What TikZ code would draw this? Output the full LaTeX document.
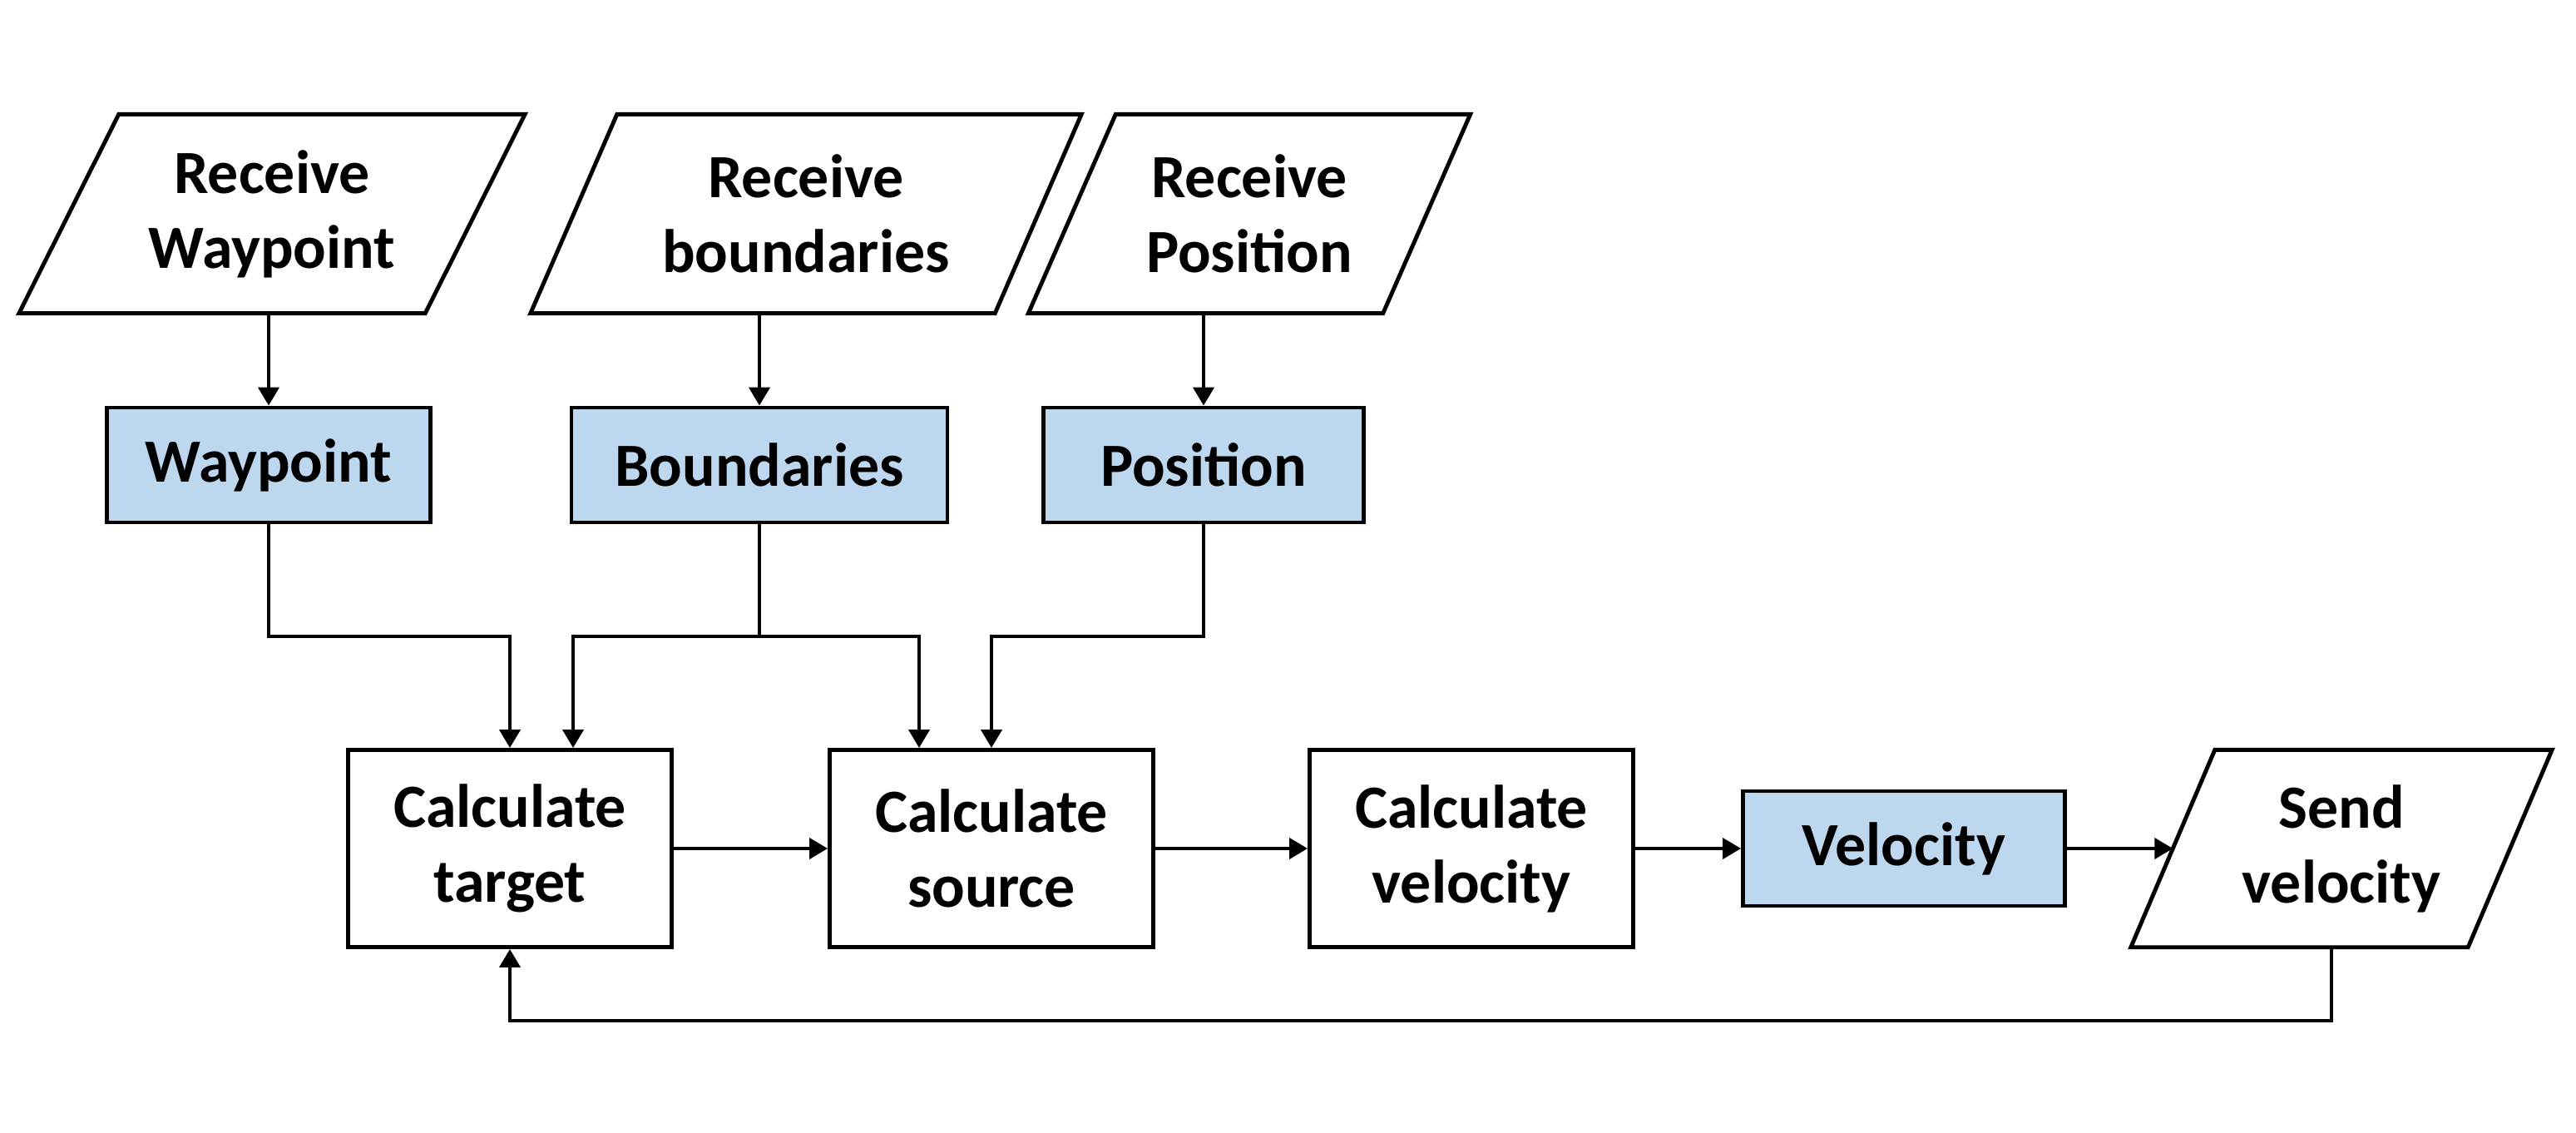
\documentclass[tikz,border=0pt]{standalone}
\usepackage{fontspec}
\setmainfont{Carlito}
\usetikzlibrary{calc,arrows.meta}

\definecolor{celeste}{RGB}{189,215,238}

\begin{document}
\begin{tikzpicture}
  % Definimos los estilos para las cajas y las flechas
    \tikzstyle{proceso} = [draw, line width=1.4pt, fill=white, text centered, align=center, font=\bfseries\fontsize{21}{25.6}\selectfont, minimum width=3.89cm, minimum height=2.37cm];
  \tikzstyle{dato} = [draw, line width=1.4pt, fill=celeste, text centered, font=\bfseries\fontsize{21}{25.6}\selectfont, minimum height=1.38cm];
  \tikzstyle{flecha} = [line width=1.15pt, -{Triangle[length=0.22cm, width=0.25cm]}];
  % Paralelogramo: caja sin borde y contorno inclinado (argumento = desplazamiento)
    \tikzset{entrada/.style={rectangle, text centered, align=center, font=\bfseries\fontsize{21}{25.6}\selectfont, minimum height=2.38cm,
    append after command={\pgfextra{\draw[line width=1.4pt, line join=miter]
      ([xshift=#1/2]\tikzlastnode.north west) -- ([xshift=#1/2]\tikzlastnode.north east) --
      ([xshift=-#1/2]\tikzlastnode.south east) -- ([xshift=-#1/2]\tikzlastnode.south west) -- cycle;}}}}

  \useasboundingbox (0,0) rectangle (30.97,13.61);

  % Dibujamos las entradas (paralelogramos)
    \node [entrada=1.2cm, minimum width=4.87cm] (recvWay) at (3.27, 11.04) {Receive\\Waypoint};
  \node [entrada=1.04cm, minimum width=5.57cm] (recvBound) at (9.69, 11.04) {Receive\\boundaries};
  \node [entrada=1.05cm, minimum width=4.25cm] (recvPos) at (15.02, 11.04) {Receive\\Position};

  % Dibujamos los datos recibidos
    \node [dato, minimum width=3.89cm] (way) at (3.23, 8.02) {Waypoint};
  \node [dato, minimum width=4.52cm] (bound) at (9.13, 8.02) {Boundaries};
  \node [dato, minimum width=3.85cm] (pos) at (14.47, 8.02) {Position};

  % Dibujamos la fila de procesos
    \node [proceso] (target) at (6.13, 3.41) {Calculate\\target};
  \node [proceso] (source) at (11.92, 3.41) {Calculate\\source};
  \node [proceso] (calcVel) at (17.69, 3.41) {Calculate\\velocity};
  \node [dato, minimum width=3.87cm] (vel) at (22.89, 3.41) {Velocity};
  \node [entrada=1.01cm, minimum width=4.04cm, minimum height=2.36cm] (sendVel) at (28.15, 3.41) {Send\\velocity};

  % Puntos de cruce de las conexiones
    \coordinate (cruce) at (0, 5.96);
  \coordinate (retorno) at (0, 1.34);

  % Flechas desde las entradas
    \draw [flecha] (way.north |- recvWay.south) -- (way.north);
  \draw [flecha] (bound.north |- recvBound.south) -- (bound.north);
  \draw [flecha] (pos.north |- recvPos.south) -- (pos.north);

  % Flechas hacia los procesos
    \draw [flecha] (way.south) -- (way.south |- cruce) -| (target.north);
  \draw [flecha] (bound.south) -- (bound.south |- cruce) -| ([xshift=0.76cm]target.north);
  \draw [flecha] (bound.south |- cruce) -| ([xshift=-0.87cm]source.north);
  \draw [flecha] (pos.south) -- (pos.south |- cruce) -| (source.north);

  % Cadena de procesos
    \draw [flecha] (target) -- (source);
  \draw [flecha] (source) -- (calcVel);
  \draw [flecha] (calcVel) -- (vel);
  \draw [flecha] (vel) -- (sendVel);

  % Retorno hacia el objetivo
    \draw [flecha] ([xshift=-0.12cm]sendVel.south) -- ([xshift=-0.12cm]sendVel.south |- retorno) -| (target.south);
  \end{tikzpicture}
\end{document}
